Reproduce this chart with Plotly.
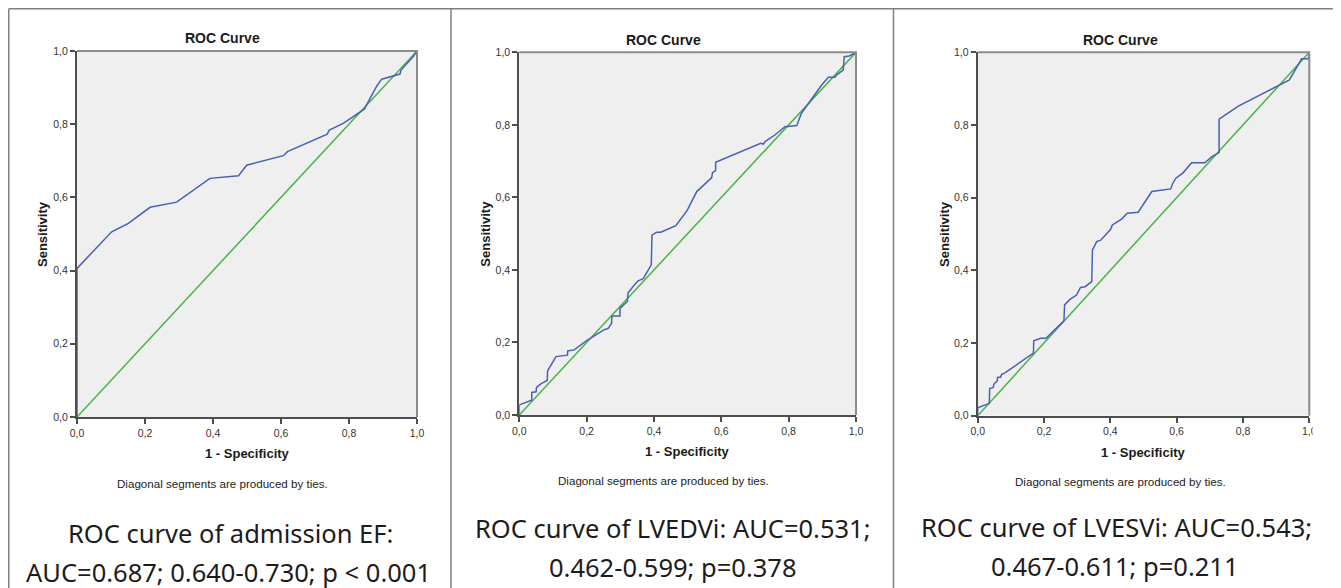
import plotly.graph_objects as go

W, H = 1341, 588
OFF = 8  # the page puts the figure 8 px in from the top-left corner
FW, FH = W - OFF, H - OFF

# ROC curve of admission EF
ef_fpr = [0.0, 0.0, 0.102, 0.151, 0.215, 0.293, 0.391, 0.475, 0.499, 0.607, 0.619,
          0.736, 0.742, 0.783, 0.845, 0.881, 0.896, 0.950, 0.953, 0.989, 1.0]
ef_tpr = [0.0, 0.406, 0.506, 0.529, 0.573, 0.587, 0.652, 0.659, 0.688, 0.714, 0.725,
          0.773, 0.784, 0.802, 0.841, 0.903, 0.923, 0.937, 0.948, 0.985, 1.0]

# ROC curve of LVEDVi
edv_fpr = [0.0, 0.0, 0.037, 0.037, 0.050, 0.051, 0.066, 0.083, 0.084, 0.109, 0.143, 0.144,
           0.162, 0.200, 0.250, 0.264, 0.274, 0.275, 0.299, 0.299, 0.321, 0.323, 0.344,
           0.353, 0.368, 0.378, 0.392, 0.394, 0.408, 0.420, 0.465, 0.499, 0.527, 0.571,
           0.574, 0.583, 0.583, 0.717, 0.725, 0.730, 0.759, 0.789, 0.824, 0.838, 0.898,
           0.918, 0.937, 0.943, 0.962, 0.965, 0.980, 1.0]
edv_tpr = [0.0, 0.028, 0.041, 0.062, 0.064, 0.076, 0.087, 0.095, 0.122, 0.161, 0.165, 0.177,
           0.179, 0.205, 0.234, 0.239, 0.253, 0.273, 0.273, 0.294, 0.313, 0.337, 0.361,
           0.370, 0.376, 0.392, 0.414, 0.496, 0.504, 0.504, 0.522, 0.565, 0.616, 0.654,
           0.668, 0.674, 0.697, 0.749, 0.747, 0.754, 0.772, 0.795, 0.798, 0.832, 0.910,
           0.931, 0.931, 0.938, 0.951, 0.988, 0.990, 1.0]

# ROC curve of LVESVi
esv_fpr = [0.0, 0.0, 0.035, 0.036, 0.047, 0.049, 0.059, 0.060, 0.069, 0.072, 0.082, 0.168,
           0.169, 0.190, 0.206, 0.260, 0.262, 0.278, 0.298, 0.310, 0.324, 0.344, 0.346,
           0.359, 0.371, 0.401, 0.406, 0.434, 0.451, 0.484, 0.525, 0.582, 0.588, 0.597,
           0.620, 0.645, 0.685, 0.706, 0.728, 0.728, 0.786, 0.914, 0.940, 0.977, 0.997,
           1.0, 1.0]
esv_tpr = [0.0, 0.022, 0.034, 0.075, 0.078, 0.087, 0.096, 0.106, 0.106, 0.114, 0.118, 0.172,
           0.206, 0.213, 0.213, 0.261, 0.305, 0.320, 0.332, 0.353, 0.355, 0.369, 0.456,
           0.479, 0.483, 0.513, 0.525, 0.541, 0.557, 0.560, 0.617, 0.624, 0.639, 0.653,
           0.669, 0.696, 0.696, 0.713, 0.724, 0.816, 0.852, 0.910, 0.924, 0.982, 0.982,
           0.997, 1.0]

ref_line = [0.0, 1.0]
tick_vals = [0.0, 0.2, 0.4, 0.6, 0.8, 1.0]
tick_text = ["0,0", "0,2", "0,4", "0,6", "0,8", "1,0"]

captions = [
    ["ROC curve of admission EF:", "AUC=0.687; 0.640-0.730; p < 0.001"],
    ["ROC curve of LVEDVi: AUC=0.531;", "0.462-0.599; p=0.378"],
    ["ROC curve of LVESVi: AUC=0.543;", "0.467-0.611; p=0.211"],
]

# page-pixel boxes of the three plot areas (left, right, top, bottom)
boxes = [(77, 417, 51, 417), (519.3, 856, 52.3, 415), (977.7, 1309.3, 52.3, 415.7)]
curves = [(ef_fpr, ef_tpr), (edv_fpr, edv_tpr), (esv_fpr, esv_tpr)]
# centers of the title / footnote text, the caption lines
title_pos = [(222, 38), (663, 40), (1120, 40)]
note_y = [483, 480, 481]
ylab_x = [42, 486, 944]
xlab_y = [453, 451, 452]
cap_pos = [((230, 533), (229, 572)), ((673, 528), (672.5, 567)), ((1116, 527), (1114, 566))]

BLUE = "#4b5fb4"
GREEN = "#46b446"


def px(x):
    return (x - OFF) / FW


def py(y):
    return 1 - (y - OFF) / FH


fig = go.Figure()
shapes = []
annotations = []

for i, (box, (fx, fy)) in enumerate(zip(boxes, curves)):
    n = "" if i == 0 else str(i + 1)
    l, r, t, b = box
    fig.add_trace(go.Scatter(x=ref_line, y=ref_line, mode="lines",
                             line=dict(color=GREEN, width=1.5),
                             xaxis="x" + n, yaxis="y" + n, showlegend=False))
    fig.add_trace(go.Scatter(x=fx, y=fy, mode="lines",
                             line=dict(color=BLUE, width=1.5),
                             xaxis="x" + n, yaxis="y" + n, showlegend=False))
    axis = dict(range=[0, 1], tickvals=tick_vals, ticktext=tick_text, automargin=False,
                showgrid=False, zeroline=False, showline=True,
                linecolor="#4d4d4d", linewidth=2, ticks="outside", ticklen=5,
                tickcolor="#4d4d4d", tickwidth=1.5,
                tickfont=dict(family="Liberation Sans", size=10.5, color="#333333"))
    fig.update_layout(**{
        "xaxis" + n: dict(axis, domain=[px(l), px(r)], anchor="y" + n),
        "yaxis" + n: dict(axis, domain=[py(b), py(t)], anchor="x" + n),
    })
    # light top / right frame of the plot area
    shapes.append(dict(type="path", xref="paper", yref="paper",
                       path=f"M {px(l)} {py(t)} L {px(r)} {py(t)} L {px(r)} {py(b)}",
                       line=dict(color="#8c8c8c", width=2), layer="above"))

    tx, ty = title_pos[i]
    annotations.append(dict(x=px(tx), y=py(ty), text="<b>ROC Curve</b>",
                            font=dict(family="Liberation Sans", size=14, color="#1a1a1a")))
    annotations.append(dict(x=px(tx), y=py(note_y[i]), text="Diagonal segments are produced by ties.",
                            font=dict(family="Liberation Sans", size=11.6, color="#222222")))
    annotations.append(dict(x=px(ylab_x[i]), y=py((t + b) / 2), text="<b>Sensitivity</b>",
                            textangle=-90,
                            font=dict(family="Liberation Sans", size=13, color="#1a1a1a")))
    annotations.append(dict(x=px((l + r) / 2), y=py(xlab_y[i]), text="<b>1 - Specificity</b>",
                            font=dict(family="Liberation Sans", size=13, color="#1a1a1a")))
    for (cx, cy), line in zip(cap_pos[i], captions[i]):
        annotations.append(dict(x=px(cx), y=py(cy), text=line,
                                font=dict(family="Noto Sans", size=25.5, color="#1e1b1c")))

for a in annotations:
    a.update(xref="paper", yref="paper", showarrow=False, xanchor="center", yanchor="middle")

# outer frame of the figure panels
frame = dict(xref="paper", yref="paper", line=dict(color="#808080", width=1.5), layer="above")
shapes.append(dict(type="line", x0=px(8.75), x1=1, y0=py(8.75), y1=py(8.75), **frame))
for xv in [8.75, 451, 893.5, 1337]:
    shapes.append(dict(type="line", x0=px(xv), x1=px(xv), y0=0, y1=py(8.75), **frame))
# the right edge of the third panel cuts through its last tick label
shapes.append(dict(type="rect", xref="paper", yref="paper", x0=px(1312.7), x1=px(1334),
                   y0=py(440), y1=py(420), fillcolor="white", line=dict(width=0), layer="above"))

fig.update_layout(width=FW, height=FH, margin=dict(l=0, r=0, t=0, b=0, autoexpand=False),
                  paper_bgcolor="white", plot_bgcolor="#efefef",
                  shapes=shapes, annotations=annotations)

fig.write_html("out.html")
